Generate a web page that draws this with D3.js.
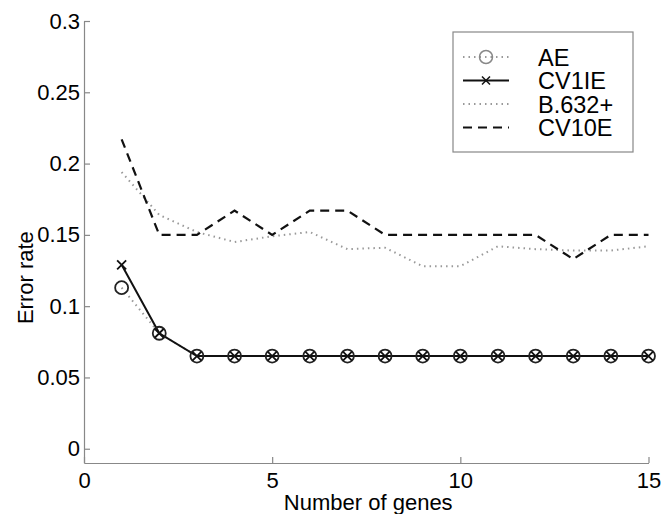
<!DOCTYPE html>
<html>
<head>
<meta charset="utf-8">
<script src="https://cdn.jsdelivr.net/npm/d3@7"></script>
<style>
  body { margin: 0; background: #fff; }
  text { font-family: "Liberation Sans", Arial, sans-serif; fill: #000; }
</style>
</head>
<body>
<div id="chart"></div>
<script>
// svg container
var svgWidth = 669;
var svgHeight = 514;

// margins
var margin = { top: 21, right: 20, bottom: 51, left: 84 };

var width = 648.5 - margin.left;
var height = svgHeight - margin.top - margin.bottom;

// data
var genes = [1, 2, 3, 4, 5, 6, 7, 8, 9, 10, 11, 12, 13, 14, 15];
var ae = [0.113, 0.081, 0.065, 0.065, 0.065, 0.065, 0.065, 0.065, 0.065, 0.065, 0.065, 0.065, 0.065, 0.065, 0.065];
var cv1ie = [0.129, 0.081, 0.065, 0.065, 0.065, 0.065, 0.065, 0.065, 0.065, 0.065, 0.065, 0.065, 0.065, 0.065, 0.065];
var b632 = [0.194, 0.164, 0.152, 0.145, 0.149, 0.152, 0.140, 0.141, 0.128, 0.128, 0.142, 0.140, 0.139, 0.139, 0.142];
var cv10e = [0.217, 0.150, 0.150, 0.167, 0.150, 0.167, 0.167, 0.150, 0.150, 0.150, 0.150, 0.150, 0.133, 0.150, 0.150];
var xTicks = [0, 5, 10, 15];
var yTicks = [0, 0.05, 0.1, 0.15, 0.2, 0.25, 0.3];
var seriesNames = ["AE", "CV1IE", "B.632+", "CV10E"];

var svg = d3.select("#chart")
  .append("svg")
  .attr("width", svgWidth)
  .attr("height", svgHeight);

var chartGroup = svg.append("g")
  .attr("transform", `translate(${margin.left}, ${margin.top})`);

var x = d3.scaleLinear().domain([0, 15]).range([0, width]);
var y = d3.scaleLinear().domain([-0.01, 0.3]).range([height, 0]);

// axes (MATLAB style, ticks pointing inward)
var bottomAxis = d3.axisBottom(x).tickValues(xTicks).tickSizeInner(-6).tickSizeOuter(0).tickPadding(9);
var leftAxis = d3.axisLeft(y).tickValues(yTicks).tickSizeInner(-6).tickSizeOuter(0).tickPadding(4)
  .tickFormat(d3.format(""));

var xAxisG = chartGroup.append("g")
  .attr("transform", `translate(0, ${height})`)
  .call(bottomAxis);

var yAxisG = chartGroup.append("g")
  .call(leftAxis);

[xAxisG, yAxisG].forEach(function(g) {
  g.select(".domain").attr("stroke", "#888").attr("stroke-width", 1.2);
  g.selectAll(".tick line").attr("stroke", "#888").attr("stroke-width", 1.2);
  g.selectAll(".tick text")
    .style("font-size", "22px")
    .style("font-family", "Liberation Sans, Arial, sans-serif")
    .attr("fill", "#000");
});

// axis labels
chartGroup.append("text")
  .attr("x", width / 2 + 2)
  .attr("y", height + 47)
  .attr("text-anchor", "middle")
  .style("font-size", "22px")
  .text("Number of genes");

chartGroup.append("text")
  .attr("transform", "rotate(-90)")
  .attr("x", 0 - (y(0.12)))
  .attr("y", 0 - margin.left + 33)
  .attr("text-anchor", "middle")
  .style("font-size", "22px")
  .text("Error rate");

var line = function(vals) {
  return d3.line()
    .x(function(d, i) { return x(genes[i]); })
    .y(function(d) { return y(d); })(vals);
};

// B.632+ dotted gray
chartGroup.append("path")
  .attr("d", line(b632))
  .attr("fill", "none")
  .attr("stroke", "#999")
  .attr("stroke-width", 2)
  .attr("stroke-dasharray", "1.5,4");

// CV10E dashed
chartGroup.append("path")
  .attr("d", line(cv10e))
  .attr("fill", "none")
  .attr("stroke", "#111")
  .attr("stroke-width", 2.2)
  .attr("stroke-dasharray", "9,6");

// AE dotted gray with circles
chartGroup.append("path")
  .attr("d", line(ae))
  .attr("fill", "none")
  .attr("stroke", "#999")
  .attr("stroke-width", 2)
  .attr("stroke-dasharray", "1.5,4");

// CV1IE solid
chartGroup.append("path")
  .attr("d", line(cv1ie))
  .attr("fill", "none")
  .attr("stroke", "#111")
  .attr("stroke-width", 2);

chartGroup.selectAll(".ae-marker")
  .data(ae)
  .enter()
  .append("circle")
  .attr("class", "ae-marker")
  .attr("cx", function(d, i) { return x(genes[i]); })
  .attr("cy", function(d) { return y(d); })
  .attr("r", 6.5)
  .attr("fill", "none")
  .attr("stroke", "#222")
  .attr("stroke-width", 1.8);

var xMark = function(cx, cy, s) {
  return `M${cx - s},${cy - s}L${cx + s},${cy + s}M${cx - s},${cy + s}L${cx + s},${cy - s}`;
};

chartGroup.selectAll(".cv-marker")
  .data(cv1ie)
  .enter()
  .append("path")
  .attr("class", "cv-marker")
  .attr("d", function(d, i) { return xMark(x(genes[i]), y(d), 4.5); })
  .attr("stroke", "#111")
  .attr("stroke-width", 1.8);

// legend
var legend = svg.append("g").attr("transform", "translate(453, 32)");

legend.append("rect")
  .attr("width", 180)
  .attr("height", 120)
  .attr("fill", "#fff")
  .attr("stroke", "#888")
  .attr("stroke-width", 1.2);

var legendStyles = [
  { color: "#999", dash: "1.5,4", marker: "circle" },
  { color: "#111", dash: null, marker: "x" },
  { color: "#999", dash: "1.5,4", marker: null },
  { color: "#111", dash: "9,6", marker: null }
];

seriesNames.forEach(function(name, i) {
  var ly = 25 + i * 23.5;
  var st = legendStyles[i];
  var seg = legend.append("line")
    .attr("x1", 10).attr("x2", 56)
    .attr("y1", ly).attr("y2", ly)
    .attr("stroke", st.color)
    .attr("stroke-width", 2);
  if (st.dash) seg.attr("stroke-dasharray", st.dash);
  if (st.marker === "circle") {
    legend.append("circle")
      .attr("cx", 33).attr("cy", ly).attr("r", 6.5)
      .attr("fill", "none").attr("stroke", "#888").attr("stroke-width", 1.5);
  } else if (st.marker === "x") {
    legend.append("path")
      .attr("d", xMark(33, ly, 4))
      .attr("stroke", "#111").attr("stroke-width", 1.5);
  }
  legend.append("text")
    .attr("x", 85)
    .attr("y", ly + 8.5)
    .style("font-size", "23.5px")
    .text(name);
});
</script>
</body>
</html>
